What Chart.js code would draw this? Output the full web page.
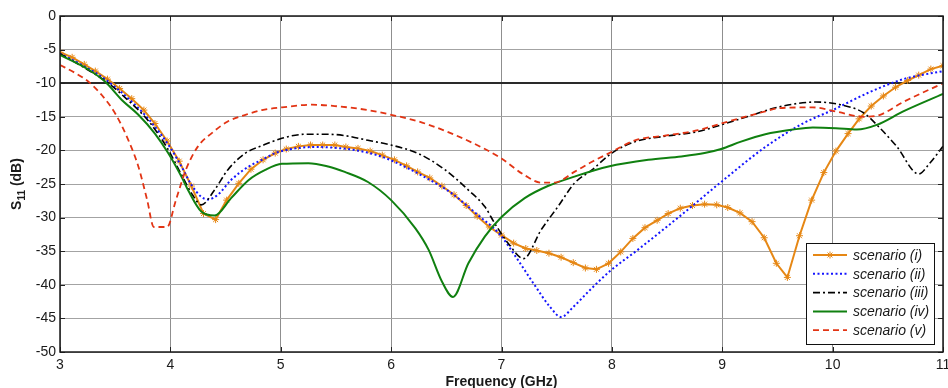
<!DOCTYPE html>
<html>
<head>
<meta charset="utf-8">
<title>S11 vs frequency</title>
<script src="https://cdn.jsdelivr.net/npm/chart.js@4.4.0/dist/chart.umd.min.js"></script>
<style>
  html, body { margin: 0; padding: 0; background: #fff; }
  #s11 { display: block; }
</style>
</head>
<body>
<canvas id="s11" width="948" height="388"></canvas>
<script>
// Reflection coefficient S11 (dB) of the five scenarios
var seriesNames = ['scenario (i)', 'scenario (ii)', 'scenario (iii)', 'scenario (iv)', 'scenario (v)'];

// scenario (i): swept points (drawn with markers)
var freq1 = [3.00, 3.11, 3.22, 3.32, 3.43, 3.54, 3.65, 3.76, 3.86, 3.97, 4.08, 4.19, 4.30, 4.41, 4.51,
  4.62, 4.73, 4.84, 4.95, 5.05, 5.16, 5.27, 5.38, 5.49, 5.59, 5.70, 5.81, 5.92, 6.03, 6.14,
  6.24, 6.35, 6.46, 6.57, 6.68, 6.78, 6.89, 7.00, 7.11, 7.22, 7.32, 7.43, 7.54, 7.65, 7.76,
  7.86, 7.97, 8.08, 8.19, 8.30, 8.41, 8.51, 8.62, 8.73, 8.84, 8.95, 9.05, 9.16, 9.27, 9.38,
  9.49, 9.59, 9.70, 9.81, 9.92, 10.03, 10.14, 10.24, 10.35, 10.46, 10.57, 10.68, 10.78, 10.89, 11.00];
var s11_1 = [-5.4, -6.15, -7.2, -8.2, -9.4, -10.8, -12.3, -14.0, -16.0, -18.6, -21.6, -25.3, -29.4, -30.3, -27.4,
  -24.9, -22.8, -21.4, -20.4, -19.8, -19.4, -19.2, -19.2, -19.2, -19.5, -19.7, -20.1, -20.7, -21.4, -22.3,
  -23.2, -24.1, -25.3, -26.6, -28.2, -29.8, -31.4, -32.6, -33.8, -34.6, -34.9, -35.3, -35.9, -36.7, -37.5,
  -37.7, -36.8, -35.1, -33.1, -31.5, -30.4, -29.4, -28.6, -28.2, -28.0, -28.1, -28.5, -29.3, -30.6, -33.0,
  -36.8, -38.9, -32.7, -27.4, -23.3, -20.1, -17.5, -15.3, -13.4, -11.9, -10.6, -9.6, -8.8, -7.9, -7.4];

// scenario (ii)
var freq2 = [3.0, 3.2, 3.4, 3.6, 3.8, 4.0, 4.1, 4.19, 4.28, 4.34, 4.43, 4.55, 4.71, 4.83, 4.95, 5.13, 5.3,
  5.48, 5.69, 5.91, 6.12, 6.34, 6.55, 6.77, 6.99, 7.14, 7.29, 7.44, 7.54, 7.65, 7.80, 7.98, 8.25,
  8.63, 8.99, 9.39, 9.73, 10.0, 10.34, 10.64, 11.0];
var s11_2 = [-5.6, -7.3, -9.3, -12.0, -15.3, -19.6, -22.4, -25.1, -26.9, -27.3, -26.6, -24.4, -22.4, -21.4, -20.4, -19.7, -19.5,
  -19.6, -20.0, -20.9, -22.4, -24.3, -26.4, -29.4, -32.6, -36.1, -39.8, -43.3, -44.8, -43.3, -40.8, -38.0, -34.6,
  -29.6, -24.7, -19.5, -16.0, -14.0, -11.3, -9.4, -8.2];

// scenario (iii)
var freq3 = [3.0, 3.2, 3.43, 3.6, 3.8, 3.97, 4.1, 4.2, 4.28, 4.40, 4.52, 4.68, 4.83, 5.01, 5.22, 5.43, 5.58,
  5.79, 6.0, 6.25, 6.49, 6.70, 6.85, 6.94, 7.06, 7.20, 7.36, 7.51, 7.66, 7.82, 8.0, 8.21, 8.48,
  8.78, 8.99, 9.28, 9.52, 9.85, 10.07, 10.28, 10.43, 10.58, 10.78, 10.88, 11.0];
var s11_3 = [-5.6, -7.5, -9.9, -12.3, -15.6, -19.6, -23.6, -26.6, -28.1, -25.9, -22.9, -20.4, -19.3, -18.2, -17.6, -17.6, -17.8,
  -18.5, -19.2, -20.5, -22.9, -25.9, -28.4, -30.9, -33.8, -36.1, -31.8, -28.4, -24.9, -22.9, -20.4, -18.7, -17.9,
  -17.2, -16.2, -14.7, -13.5, -12.8, -13.2, -14.4, -16.7, -19.4, -23.5, -21.9, -19.4];

// scenario (iv)
var freq4 = [3.0, 3.26, 3.41, 3.56, 3.71, 3.86, 3.98, 4.10, 4.16, 4.28, 4.40, 4.55, 4.71, 4.86, 5.01, 5.25,
  5.43, 5.58, 5.79, 6.0, 6.22, 6.34, 6.46, 6.56, 6.70, 6.85, 7.0, 7.21, 7.42, 7.66, 7.97, 8.33,
  8.63, 8.84, 8.99, 9.17, 9.39, 9.64, 9.82, 10.03, 10.22, 10.40, 10.64, 11.0];
var s11_4 = [-5.8, -8.0, -9.8, -12.5, -14.7, -17.5, -20.4, -23.9, -25.9, -29.1, -29.7, -27.1, -24.4, -22.9, -22.0, -21.9,
  -22.4, -23.2, -24.7, -27.4, -31.6, -34.8, -39.5, -41.8, -36.8, -32.8, -29.9, -27.1, -25.3, -23.9, -22.4, -21.4,
  -20.9, -20.4, -19.8, -18.7, -17.6, -16.9, -16.6, -16.7, -16.9, -16.2, -14.2, -11.6];

// scenario (v)
var freq5 = [3.0, 3.14, 3.26, 3.38, 3.50, 3.62, 3.71, 3.79, 3.85, 3.97, 4.05, 4.14, 4.25, 4.37, 4.52, 4.68,
  4.83, 5.01, 5.28, 5.49, 5.79, 6.0, 6.25, 6.55, 6.85, 7.0, 7.21, 7.36, 7.48, 7.66, 7.82, 8.0,
  8.21, 8.48, 8.78, 8.99, 9.39, 9.52, 9.82, 10.03, 10.28, 10.43, 10.64, 11.0];
var s11_5 = [-7.3, -8.5, -9.8, -11.8, -14.5, -18.5, -22.4, -27.4, -31.4, -31.4, -27.4, -22.9, -19.4, -17.5, -15.7, -14.7,
  -14.0, -13.6, -13.2, -13.4, -14.0, -14.7, -15.7, -17.5, -19.8, -21.2, -23.7, -24.8, -24.8, -23.2, -21.7, -20.2,
  -18.5, -17.8, -17.0, -16.0, -14.2, -13.7, -13.6, -14.2, -15.0, -14.7, -12.8, -10.0];

var yTicks = [0, -5, -10, -15, -20, -25, -30, -35, -40, -45, -50];

function pts(xs, ys) {
  return xs.map(function (x, i) { return { x: x, y: ys[i] }; });
}

var FONT = "'Liberation Sans', Arial, Helvetica, sans-serif";
var styles = [
  { color: 'rgb(230,135,20)', dash: [], width: 2 },
  { color: 'rgb(20,20,255)', dash: [2, 2.5], width: 2 },
  { color: 'rgb(0,0,0)', dash: [7, 3, 2, 3], width: 1.6 },
  { color: 'rgb(16,128,16)', dash: [], width: 2 },
  { color: 'rgb(226,52,20)', dash: [6, 4], width: 1.8 }
];

// Axis titles, frame, inner ticks and the boxed legend
var frame = {
  id: 'frame',
  afterDraw: function (chart) {
    var c = chart.ctx, a = chart.chartArea;
    var xs = chart.scales.x, ys = chart.scales.y;
    c.save();

    // inner tick marks on all four sides
    c.strokeStyle = '#222';
    c.lineWidth = 1;
    c.beginPath();
    yTicks.forEach(function (v) {
      var py = Math.round(ys.getPixelForValue(v)) + 0.5;
      c.moveTo(a.left, py); c.lineTo(a.left + 5, py);
      c.moveTo(a.right, py); c.lineTo(a.right - 5, py);
    });
    for (var f = 3; f <= 11; f++) {
      var px = Math.round(xs.getPixelForValue(f)) + 0.5;
      c.moveTo(px, a.top); c.lineTo(px, a.top + 5);
      c.moveTo(px, a.bottom); c.lineTo(px, a.bottom - 5);
    }
    c.stroke();

    // frame
    c.strokeStyle = '#1a1a1a';
    c.lineWidth = 1.5;
    c.strokeRect(a.left, a.top, a.right - a.left, a.bottom - a.top);

    // x title
    c.fillStyle = '#1a1a1a';
    c.font = 'bold 14px ' + FONT;
    c.textAlign = 'center';
    c.textBaseline = 'alphabetic';
    c.fillText('Frequency (GHz)', (a.left + a.right) / 2, 386);

    // y title with subscript
    c.translate(21, (a.top + a.bottom) / 2);
    c.rotate(-Math.PI / 2);
    c.textAlign = 'left';
    c.font = 'bold 14px ' + FONT;
    var wS = c.measureText('S').width;
    var wRest = c.measureText(' (dB)').width;
    c.font = 'bold 10px ' + FONT;
    var wSub = c.measureText('11').width;
    var x0 = -(wS + wSub + wRest) / 2;
    c.font = 'bold 14px ' + FONT;
    c.fillText('S', x0, 0);
    c.font = 'bold 10px ' + FONT;
    c.fillText('11', x0 + wS, 4);
    c.font = 'bold 14px ' + FONT;
    c.fillText(' (dB)', x0 + wS + wSub, 0);
    c.restore();

    // legend
    c.save();
    var lx = 806, ly = 243, lw = 128, lh = 101;
    c.fillStyle = '#fff';
    c.fillRect(lx, ly, lw, lh);
    c.strokeStyle = '#111';
    c.lineWidth = 1;
    c.strokeRect(lx + 0.5, ly + 0.5, lw, lh);
    c.font = 'italic 14px ' + FONT;
    c.textAlign = 'left';
    c.textBaseline = 'middle';
    seriesNames.forEach(function (name, i) {
      var yy = 255 + i * 18.8;
      var st = styles[i];
      c.strokeStyle = st.color;
      c.lineWidth = st.width;
      c.setLineDash(st.dash);
      c.beginPath();
      c.moveTo(813, yy); c.lineTo(847, yy);
      c.stroke();
      c.setLineDash([]);
      if (i === 0) {
        // star marker in the middle of the sample line
        c.lineWidth = 1;
        c.beginPath();
        for (var k = 0; k < 4; k++) {
          var ang = k * Math.PI / 4;
          c.moveTo(830 - 3.5 * Math.cos(ang), yy - 3.5 * Math.sin(ang));
          c.lineTo(830 + 3.5 * Math.cos(ang), yy + 3.5 * Math.sin(ang));
        }
        c.stroke();
      }
      c.fillStyle = '#1a1a1a';
      c.fillText(name, 853, yy + 1);
    });
    c.restore();
  }
};

var allData = [pts(freq1, s11_1), pts(freq2, s11_2), pts(freq3, s11_3), pts(freq4, s11_4), pts(freq5, s11_5)];

var datasets = allData.map(function (d, i) {
  var st = styles[i];
  return {
    label: seriesNames[i],
    data: d,
    borderColor: st.color,
    backgroundColor: st.color,
    borderWidth: st.width,
    borderDash: st.dash,
    fill: false,
    // later scenarios are painted on top
    order: 5 - i,
    pointRadius: i === 0 ? 3.5 : 0,
    pointStyle: 'star',
    pointBorderWidth: 1,
    pointBorderColor: st.color,
    tension: 0,
    cubicInterpolationMode: i === 0 ? 'default' : 'monotone'
  };
});

var ctx = document.getElementById('s11').getContext('2d');
var myChart = new Chart(ctx, {
  type: 'line',
  data: { datasets: datasets },
  options: {
    responsive: false,
    animation: false,
    devicePixelRatio: 1,
    layout: { padding: { top: 16, right: 5, left: 0, bottom: 0 } },
    plugins: {
      legend: { display: false },
      tooltip: { enabled: false }
    },
    scales: {
      x: {
        type: 'linear',
        min: 3,
        max: 11,
        border: { display: false },
        grid: {
          color: '#8f8f8f',
          lineWidth: 1,
          drawTicks: false
        },
        ticks: {
          stepSize: 1,
          padding: 5,
          color: '#1a1a1a',
          font: { family: FONT, size: 14 }
        },
        afterFit: function (s) {
          s.height = 36;
          s.paddingLeft = 0;
          s.paddingRight = 0;
        }
      },
      y: {
        type: 'linear',
        min: -50,
        max: 0,
        border: { display: false },
        grid: {
          color: function (c) { return c.tick && c.tick.value === -10 ? '#2a2a2a' : '#a3a3a3'; },
          lineWidth: function (c) { return c.tick && c.tick.value === -10 ? 2 : 1; },
          drawTicks: false
        },
        ticks: {
          stepSize: 5,
          padding: 4,
          color: '#1a1a1a',
          font: { family: FONT, size: 14 }
        },
        afterFit: function (s) {
          s.width = 60;
          s.paddingTop = 0;
          s.paddingBottom = 0;
        }
      }
    }
  },
  plugins: [frame]
});
</script>
</body>
</html>
